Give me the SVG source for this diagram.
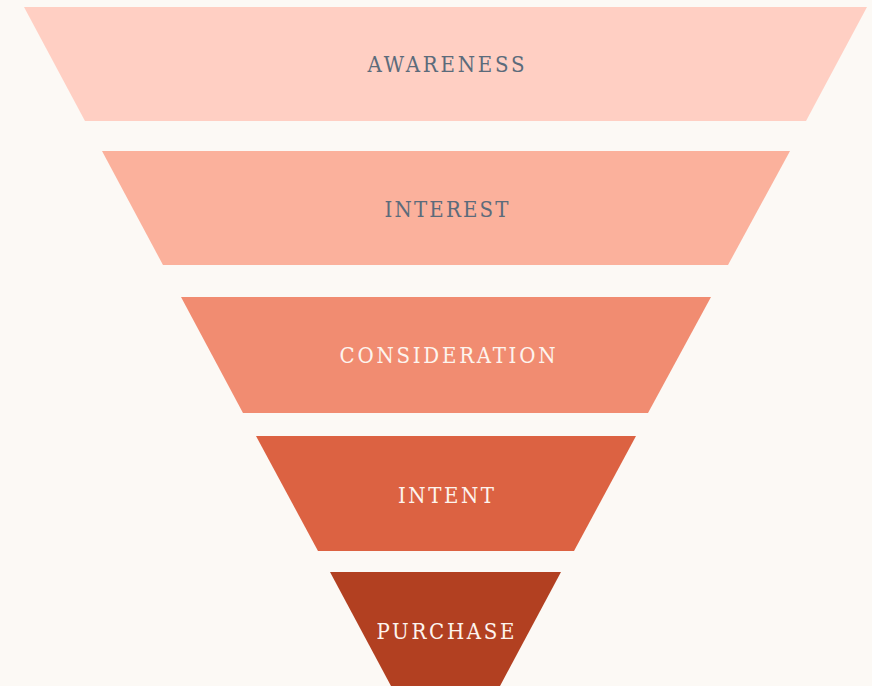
<svg xmlns="http://www.w3.org/2000/svg" width="872" height="686" viewBox="0 0 872 686">
  <style>
    .label { font-family: "DejaVu Serif", "Liberation Serif", serif; font-stretch: condensed; font-size: 22px; text-anchor: middle; }
    .dark { fill: #5B6B7B; }
    .light { fill: #FDF4EE; }
  </style>
  <rect width="872" height="686" fill="#FCF9F5"/>
  <!-- funnel stages, widest at the top -->
  <g id="awareness">
    <polygon points="24,7 867,7 806,121 85,121" fill="#FFCFC3"/>
    <text class="label dark" x="446" y="72" textLength="157" lengthAdjust="spacing">AWARENESS</text>
  </g>
  <g id="interest">
    <polygon points="102,151 790,151 728,265 163,265" fill="#FBB19C"/>
    <text class="label dark" x="446.5" y="217" textLength="124" lengthAdjust="spacing">INTEREST</text>
  </g>
  <g id="consideration">
    <polygon points="181,297 711,297 648,413 243,413" fill="#F18C71"/>
    <text class="label light" x="447.5" y="363" textLength="216" lengthAdjust="spacing">CONSIDERATION</text>
  </g>
  <g id="intent">
    <polygon points="256,436 636,436 574,551 318,551" fill="#DC6242"/>
    <text class="label light" x="446" y="502.5" textLength="96" lengthAdjust="spacing">INTENT</text>
  </g>
  <g id="purchase">
    <polygon points="330,572 561,572 500,686 391,686" fill="#B24021"/>
    <text class="label light" x="445.5" y="639" textLength="138" lengthAdjust="spacing">PURCHASE</text>
  </g>
  <g id="connectors"/>
</svg>
